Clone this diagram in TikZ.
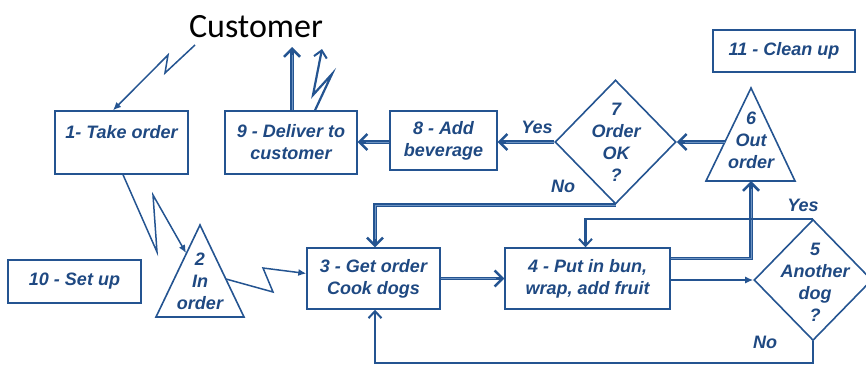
\documentclass[tikz,border=0pt]{standalone}
\usepackage{fontspec}
\setmainfont{Liberation Sans}
\newfontfamily\custfont{Carlito}
\usetikzlibrary{arrows.meta,shapes.geometric,calc}
\definecolor{fc}{RGB}{36,84,145}
\definecolor{tc}{RGB}{31,73,130}
\definecolor{lc}{RGB}{110,148,195}
\begin{document}
\begin{tikzpicture}[x=1pt,y=-1pt,
  txt/.style={font=\fontsize{18}{22}\selectfont\bfseries\itshape, text=tc, align=center},
  box/.style={txt, draw=fc, line width=1.4pt, inner sep=0pt},
  lbl/.style={txt, inner sep=0pt},
  dia/.style={diamond, draw=fc, line width=1.6pt, inner sep=0pt},
  tri/.style={draw=fc, line width=1.6pt, line join=miter},
  thinarrow/.style={draw=fc, line width=1.5pt, line join=miter, -{Latex[length=8pt,width=7pt]}},
  medarrow/.style={draw=fc, line width=2.2pt, line join=miter, -{Straight Barb[length=7pt,width=13pt,line width=2pt]}},
  bolda/.style={draw=fc, line width=3.5pt, line join=miter, -{Straight Barb[length=8pt,width=16pt,line width=2.5pt]},
     postaction={draw=lc, line width=0.6pt, -, shorten >=8pt}},
]
\useasboundingbox (0,0) rectangle (866,364);

% customer
\node[font=\custfont\fontsize{34}{34}\selectfont, inner sep=0pt] (cust) at (256,27) {Customer};
\coordinate (cs) at (195,45);
\coordinate (cu1) at (292,47);
\coordinate (cu2) at (322,49);

% boxes
\node[box, minimum width=133, minimum height=63] (b1) at (121.5,142.5) {1- Take order\\\phantom{X}};
\node[box, minimum width=132, minimum height=63] (b9) at (291,142.5) {9 - Deliver to\\customer};
\node[box, minimum width=107, minimum height=59] (b8) at (443.5,140.5) {8 - Add\\beverage};
\node[box, minimum width=142, minimum height=42] (b11) at (784,51) {11 - Clean up};
\node[box, minimum width=133, minimum height=43] (b10) at (74.5,281.5) {10 - Set up};
\node[box, minimum width=133, minimum height=61] (b3) at (373.5,278.5) {3 - Get order\\Cook dogs};
\node[box, minimum width=165, minimum height=61] (b4) at (587.5,278.5) {4 - Put in bun,\\wrap, add fruit};

% diamonds
\node[dia, minimum width=121, minimum height=124] (d7) at (615.5,142) {};
\node[lbl] (t7) at (616,142) {7\\Order\\OK\\?};
\node[dia, minimum width=118, minimum height=121] (d5) at (813,280) {};
\node[lbl] (t5) at (815,282) {5\\Another\\dog\\?};

% triangles
\coordinate (t6a) at (751,88);
\coordinate (t6r) at (795,181);
\coordinate (t6l) at (706,181);
\coordinate (t6b) at (751,181);
\coordinate (t6w) at (725,142);
\draw[tri] (t6a) -- (t6r) -- (t6l) -- cycle;
\node[lbl] (t6) at (751,140) {6\\Out\\order};

\coordinate (t2a) at (200,225);
\coordinate (t2r) at (244,317);
\coordinate (t2l) at (156,317);
\coordinate (t2w) at (186,253);
\coordinate (t2e) at (226,279);
\draw[tri] (t2a) -- (t2r) -- (t2l) -- cycle;
\node[lbl] (t2) at (200,281) {2\\In\\order};

% connectors
\draw[thinarrow] (cs) -- (165,73) -- (168,55) -- ($(b1.north)+(-8.5,0)$);
\draw[bolda] ($(b9.north)+(1,0)$) -- (cu1);
\draw[medarrow] ($(b9.north)+(24,0)$) -- (332,74) -- (313,95) -- (cu2);
\draw[thinarrow] ($(b1.south)+(1.5,0)$) -- (157,252) -- (153,195) -- (t2w);
\draw[thinarrow] (t2e) -- (273,292) -- (263,268) -- ($(b3.west)+(0,-5)$);
\draw[bolda] (t6w) -- (d7.east);
\draw[bolda] (d7.west) -- (d7.west -| b8.east);
\draw[bolda] (b8.west |- d7.west) -- (b9.east |- d7.west);
\draw[bolda] (b3.east) -- (b4.west);
\draw[bolda] ($(b4.east)+(0,-20)$) -| (t6b);
\draw[thinarrow] ($(b4.east)+(0,1.5)$) -- (d5.west);
\draw[medarrow] (d5.north) -| ($(b4.north)+(-2,0)$);
\draw[medarrow] (d5.south) -- ++(0,22) -| ($(b3.south)+(1.5,0)$);
\draw[bolda] (d7.south) -| ($(b3.north)+(1.5,0)$);

% labels
\node[lbl] (y7) at (537,127) {Yes};
\node[lbl] (n7) at (563,186) {No};
\node[lbl] (y5) at (803,205) {Yes};
\node[lbl] (n5) at (765,342) {No};
\end{tikzpicture}
\end{document}
